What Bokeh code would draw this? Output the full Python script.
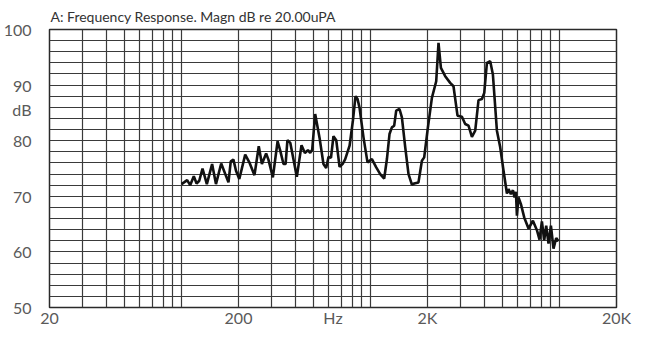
from bokeh.plotting import figure
from bokeh.models import FixedTicker, Range1d
from bokeh.embed import file_html
from bokeh.resources import INLINE

# ---- data ----
freq_hz = [100, 103, 107, 111, 116, 120, 124, 129, 136, 145,
           152, 162, 177, 182, 188, 194, 202, 217, 229, 243,
           256, 266, 280, 288, 304, 322, 332, 346, 355, 363,
           376, 407, 431, 449, 466, 479, 491, 509, 537, 563,
           582, 599, 617, 636, 658, 685, 714, 734, 774, 806,
           832, 853, 874, 917, 963, 1016, 1071, 1124, 1180, 1220,
           1259, 1296, 1333, 1366, 1422, 1464, 1525, 1587, 1654, 1701,
           1792, 1868, 1921, 2000, 2110, 2224, 2287, 2355, 2481, 2637,
           2745, 2883, 3042, 3166, 3296, 3436, 3577, 3724, 3882, 3993,
           4124, 4294, 4437, 4659, 4850, 5050, 5263, 5366, 5525, 5662,
           5774, 5873, 5945, 6062, 6242, 6498, 6846, 7224, 7586, 7830,
           8060, 8289, 8494, 8736, 8995, 9284, 9594, 9867]
level_db = [72.2, 72.5, 72.9, 72.0, 73.6, 72.3, 72.8, 75.0, 72.2, 75.8,
            72.2, 75.9, 72.5, 76.3, 76.6, 74.6, 73.1, 77.5, 76.0, 73.8,
            79.0, 75.8, 77.7, 76.6, 73.4, 79.9, 78.3, 75.8, 75.8, 80.1,
            79.6, 73.5, 79.2, 77.8, 78.3, 77.8, 78.4, 84.8, 80.5, 75.8,
            75.1, 77.1, 76.9, 80.8, 80.1, 75.3, 75.9, 76.7, 79.1, 83.6,
            88.0, 87.5, 85.9, 80.6, 76.1, 76.7, 75.2, 74.0, 73.2, 76.7,
            81.2, 82.4, 82.7, 85.4, 85.7, 84.2, 78.8, 74.0, 72.1, 72.3,
            72.5, 76.4, 77.0, 81.8, 87.7, 90.7, 97.6, 93.1, 91.6, 90.4,
            89.8, 84.5, 84.3, 83.0, 82.7, 80.7, 81.8, 87.3, 87.5, 88.6,
            94.0, 94.3, 91.9, 81.8, 78.8, 74.6, 70.5, 71.3, 70.4, 71.1,
            69.8, 70.8, 66.5, 69.8, 68.6, 66.2, 64.2, 65.6, 63.9, 62.2,
            65.5, 62.1, 64.7, 61.5, 64.7, 60.6, 62.5, 61.9]

x_tick_values = [20, 200, 632.5, 2000, 20000]
x_tick_labels = ["20", "200", "Hz", "2K", "20K"]
y_tick_values = [50, 60, 70, 80, 85.7, 90, 100]
y_tick_labels = ["50", "60", "70", "80", "dB", "90", "100"]
x_grid_values = ([20, 30, 40, 50, 60, 70, 80, 90, 100]
                 + [200, 300, 400, 500, 600, 700, 800, 900, 1000]
                 + [2000, 3000, 4000, 5000, 6000, 7000, 8000, 9000, 10000, 20000])
y_grid_values = list(range(50, 101, 2))
title_text = "A: Frequency Response. Magn dB re 20.00uPA"

FONT = "Lato"
LABEL_COLOR = "#5a5a5a"
GRID_COLOR = "#3a3a3a"

p = figure(width=650, height=346, x_axis_type="log",
           x_range=Range1d(20, 20000), y_range=Range1d(50, 100),
           output_backend="svg", toolbar_location=None,
           min_border_left=49, min_border_right=34,
           min_border_top=28, min_border_bottom=39,
           title=title_text)

p.title.text_font = FONT
p.title.text_font_size = "14px"
p.title.text_font_style = "normal"
p.title.text_color = "#333333"
p.title.standoff = 10
p.title.offset = 1

p.background_fill_color = "white"
p.border_fill_color = "white"
p.outline_line_color = "#2a2a2a"
p.outline_line_width = 1.5

for ax in (p.xaxis[0], p.yaxis[0]):
    ax.axis_line_color = None
    ax.major_tick_line_color = None
    ax.minor_tick_line_color = None
    ax.major_label_text_font = FONT
    ax.major_label_text_font_size = "16px"
    ax.major_label_text_color = LABEL_COLOR

p.xaxis.ticker = FixedTicker(ticks=x_tick_values)
p.xaxis.major_label_overrides = {v: t for v, t in zip(x_tick_values, x_tick_labels)}
p.xaxis.major_label_standoff = -6

p.yaxis.ticker = FixedTicker(ticks=y_tick_values)
p.yaxis.major_label_overrides = {v: t for v, t in zip(y_tick_values, y_tick_labels)}
p.yaxis.major_label_standoff = 12

p.xgrid.ticker = FixedTicker(ticks=x_grid_values)
p.ygrid.ticker = FixedTicker(ticks=y_grid_values)
for g in (p.xgrid[0], p.ygrid[0]):
    g.grid_line_color = GRID_COLOR
    g.grid_line_width = 1.2
    g.grid_line_alpha = 1.0

p.line(freq_hz, level_db, line_color="#111111", line_width=2.6)

open("out.html", "w").write(file_html(p, INLINE))
